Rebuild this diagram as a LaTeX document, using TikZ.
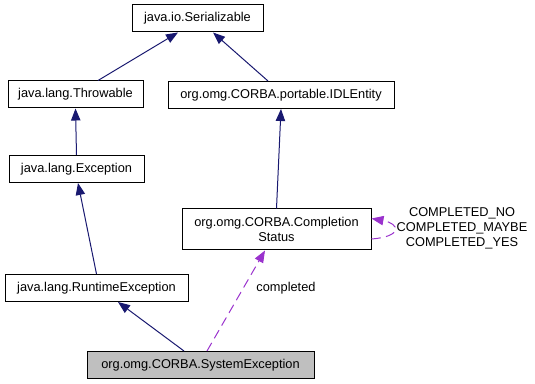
\documentclass[tikz,border=0pt]{standalone}
\usepackage{fontspec}
\setmainfont{Liberation Sans}
\usetikzlibrary{arrows.meta, calc}

\definecolor{inhblue}{RGB}{25,25,112}
\definecolor{usepurple}{RGB}{154,50,205}
\definecolor{focusgray}{RGB}{191,191,191}

\begin{document}
\begin{tikzpicture}[x=0.75pt, y=-0.75pt,
      cls/.style={draw=black, line width=0.75pt, fill=white, inner sep=0pt, minimum height=20.25pt, align=center, font=\fontsize{9.6}{11.5}\selectfont},
      lbl/.style={inner sep=0pt, align=center, font=\fontsize{9.6}{11.2}\selectfont},
      inh/.style={-{Triangle[length=9pt, width=7pt]}, color=inhblue, line width=0.75pt},
      dep/.style={-{Triangle[length=9pt, width=7pt]}, color=usepurple, line width=0.75pt, dash pattern=on 7pt off 4pt},
    ]
    \useasboundingbox (0,0) rectangle (535,384);

    \node[cls, minimum width=98.25pt] (serializable) at (197.5,18.5) {java.io.Serializable};
    \node[cls, minimum width=101.25pt] (throwable) at (75.5,94.5) {java.lang.Throwable};
    \node[cls, minimum width=169.5pt] (idlentity) at (281,95) {org.omg.CORBA.portable.IDLEntity};
    \node[cls, minimum width=101.25pt] (exception) at (76.5,169) {java.lang.Exception};
    \node[cls, minimum width=141.75pt, minimum height=30.75pt] (compstatus) at (276.5,229.5) {org.omg.CORBA.Completion\\Status};
    \node[cls, minimum width=137.25pt] (runtime) at (96.5,288) {java.lang.RuntimeException};
    \node[cls, minimum width=170.25pt, fill=focusgray] (sysexc) at (200.5,365) {org.omg.CORBA.SystemException};

    \node[lbl] (statvals) at (462,228) {COMPLETED\_NO\\COMPLETED\_MAYBE\\COMPLETED\_YES};
    \node[lbl] (complbl) at (286,288) {completed};

    % inheritance
    \draw[inh] ($(throwable.north)+(22.5,0)$) -- ($(serializable.south)+(-19.5,0)$);
    \draw[inh] ($(idlentity.north)+(-13,0)$) -- ($(serializable.south)+(15.5,0)$);
    \draw[inh] (exception.north) -- (throwable.south);
    \draw[inh] (compstatus.north) -- (idlentity.south);
    \draw[inh] (runtime.north) -- ($(exception.south)+(1.5,0)$);
    \draw[inh] ($(sysexc.north)+(-16.5,0)$) -- ($(runtime.south)+(21.5,0)$);

    % usage
    \draw[dep] ($(sysexc.north)+(6.5,0)$) -- ($(compstatus.south)+(-11.5,0)$);
    \draw[dep] ($(compstatus.east)+(0,9.5)$) .. controls ($(compstatus.east)+(32,7)$) and ($(compstatus.east)+(28,-6)$) .. ($(compstatus.east)+(0,-11)$);
  \end{tikzpicture}
\end{document}
